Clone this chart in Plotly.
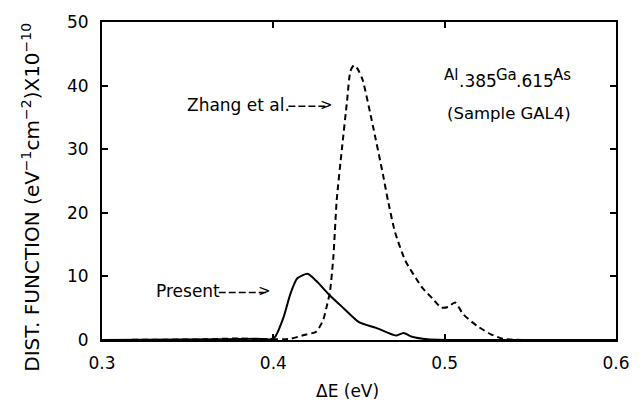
import plotly.graph_objects as go

# Zhang et al. (dashed)
zhang_x = [0.30, 0.36, 0.38, 0.395, 0.410, 0.418, 0.425, 0.429, 0.431, 0.433, 0.435, 0.437,
           0.440, 0.443, 0.445, 0.447, 0.449, 0.452, 0.458, 0.464, 0.467, 0.471, 0.477,
           0.487, 0.493, 0.498, 0.502, 0.506, 0.511, 0.519, 0.527, 0.534, 0.545, 0.60]
zhang_y = [0.0, 0.1, 0.25, 0.1, 0.2, 0.8, 1.3, 3.1, 5.1, 7.5, 12.9, 22.0,
           30.0, 37.5, 42.3, 43.2, 42.7, 41.0, 33.8, 26.0, 21.8, 17.0, 12.5,
           8.2, 6.5, 5.1, 5.2, 5.9, 4.0, 2.2, 0.9, 0.2, 0.0, 0.0]

# Present (solid)
present_x = [0.30, 0.37, 0.39, 0.398, 0.401, 0.406, 0.410, 0.414, 0.420, 0.425, 0.433,
             0.441, 0.450, 0.460, 0.470, 0.472, 0.476, 0.481, 0.490, 0.500, 0.60]
present_y = [0.0, 0.1, 0.2, 0.1, 0.5, 3.6, 7.3, 9.7, 10.4, 9.3, 7.0,
             5.0, 2.8, 1.9, 0.8, 0.7, 1.1, 0.5, 0.1, 0.0, 0.0]

x_ticks = [0.3, 0.4, 0.5, 0.6]
y_ticks = [0, 10, 20, 30, 40, 50]

# sample formula pieces: (text, raised?)
formula_parts = [("Al", True), (".385", False), ("Ga", True), (".615", False), ("As", True)]

FONT = "DejaVu Sans, Verdana, sans-serif"

# plot-area geometry in pixels
L, R, T, B = 102, 626, 19, 340
W, H = R - L, B - T


def px(xp):
    return (xp - L) / W


def py(yp):
    return 1 - (yp - T) / H


# approximate DejaVu Sans advance widths (em)
ADV = {"A": .684, "l": .278, "G": .775, "a": .613, "s": .521, ".": .318,
       "3": .636, "8": .636, "5": .636, "6": .636, "1": .636}

fig = go.Figure()
fig.add_trace(go.Scatter(x=zhang_x, y=zhang_y, mode="lines",
                         line=dict(color="black", width=2, dash="6px,4px", shape="spline", smoothing=0.6),
                         showlegend=False))
fig.add_trace(go.Scatter(x=present_x, y=present_y, mode="lines",
                         line=dict(color="black", width=2, shape="spline", smoothing=0.6),
                         showlegend=False))

axis_common = dict(showgrid=False, zeroline=False, showline=True, linecolor="black", linewidth=2,
                   mirror="allticks", ticks="inside", ticklen=6, tickwidth=1.5, tickcolor="black",
                   tickfont=dict(family=FONT, size=17, color="black"))

fig.update_xaxes(range=[0.3, 0.6], tickvals=x_ticks, ticktext=[f"{v:.1f}" for v in x_ticks],
                 ticklabelstandoff=7, **axis_common)
fig.update_yaxes(range=[0, 50], tickvals=y_ticks, ticktext=[str(v) for v in y_ticks],
                 ticklabelstandoff=8, **axis_common)

# labels with dashed pointer arrows
labels = [
    dict(text="Zhang et al.", x0=187, y=103, tip=340),
    dict(text="Present", x0=155, y=291, tip=276),
]
text_w = {"Zhang et al.": 103, "Present": 64}
for a in labels:
    fig.add_annotation(text=a["text"], xref="paper", yref="paper", showarrow=False,
                       x=px(a["x0"]), y=py(a["y"]), xanchor="left", yanchor="middle",
                       font=dict(family=FONT, size=17, color="black"))
    x_start = a["x0"] + text_w[a["text"]] + 2
    fig.add_shape(type="line", xref="paper", yref="paper",
                  x0=px(x_start), x1=px(a["tip"] - 7), y0=py(a["y"] + 1), y1=py(a["y"] + 1),
                  line=dict(color="black", width=1.5, dash="7px,3px"))
    fig.add_annotation(text="&gt;", xref="paper", yref="paper", showarrow=False,
                       x=px(a["tip"]), y=py(a["y"]), xanchor="right", yanchor="middle",
                       font=dict(family=FONT, size=15, color="black"))

# formula Al.385Ga.615As with raised element symbols
SIZE_EL, SIZE_NUM = 15, 17
widths = [sum(ADV[c] for c in t) * (SIZE_EL if up else SIZE_NUM) for t, up in formula_parts]
xcur = 579 - sum(widths)
for (t, up), w in zip(formula_parts, widths):
    fig.add_annotation(text=t, xref="paper", yref="paper", showarrow=False,
                       x=px(xcur), y=py(72 if up else 79), xanchor="left", yanchor="middle",
                       borderpad=0,
                       font=dict(family=FONT, size=SIZE_EL if up else SIZE_NUM, color="black"))
    xcur += w

fig.add_annotation(text="(Sample GAL4)", xref="paper", yref="paper",
                   showarrow=False, x=px(582), y=py(111),
                   xanchor="right", yanchor="middle",
                   font=dict(family=FONT, size=16.5, color="black"))

# axis titles
fig.add_annotation(text="ΔE (eV)", xref="paper", yref="paper", showarrow=False,
                   x=px(352), y=py(391), xanchor="center", yanchor="middle",
                   font=dict(family=FONT, size=17, color="black"))
fig.add_annotation(text="DIST. FUNCTION (eV<sup>−1</sup>cm<sup>−2</sup>)X10<sup>−10</sup>",
                   xref="paper", yref="paper", showarrow=False, textangle=-90,
                   x=px(30), y=py(196), xanchor="center", yanchor="middle",
                   font=dict(family=FONT, size=20, color="black"))

fig.update_layout(width=642, height=403, margin=dict(l=L, r=642 - R, t=T, b=403 - B),
                  paper_bgcolor="white", plot_bgcolor="white")

fig.write_html("out.html")
